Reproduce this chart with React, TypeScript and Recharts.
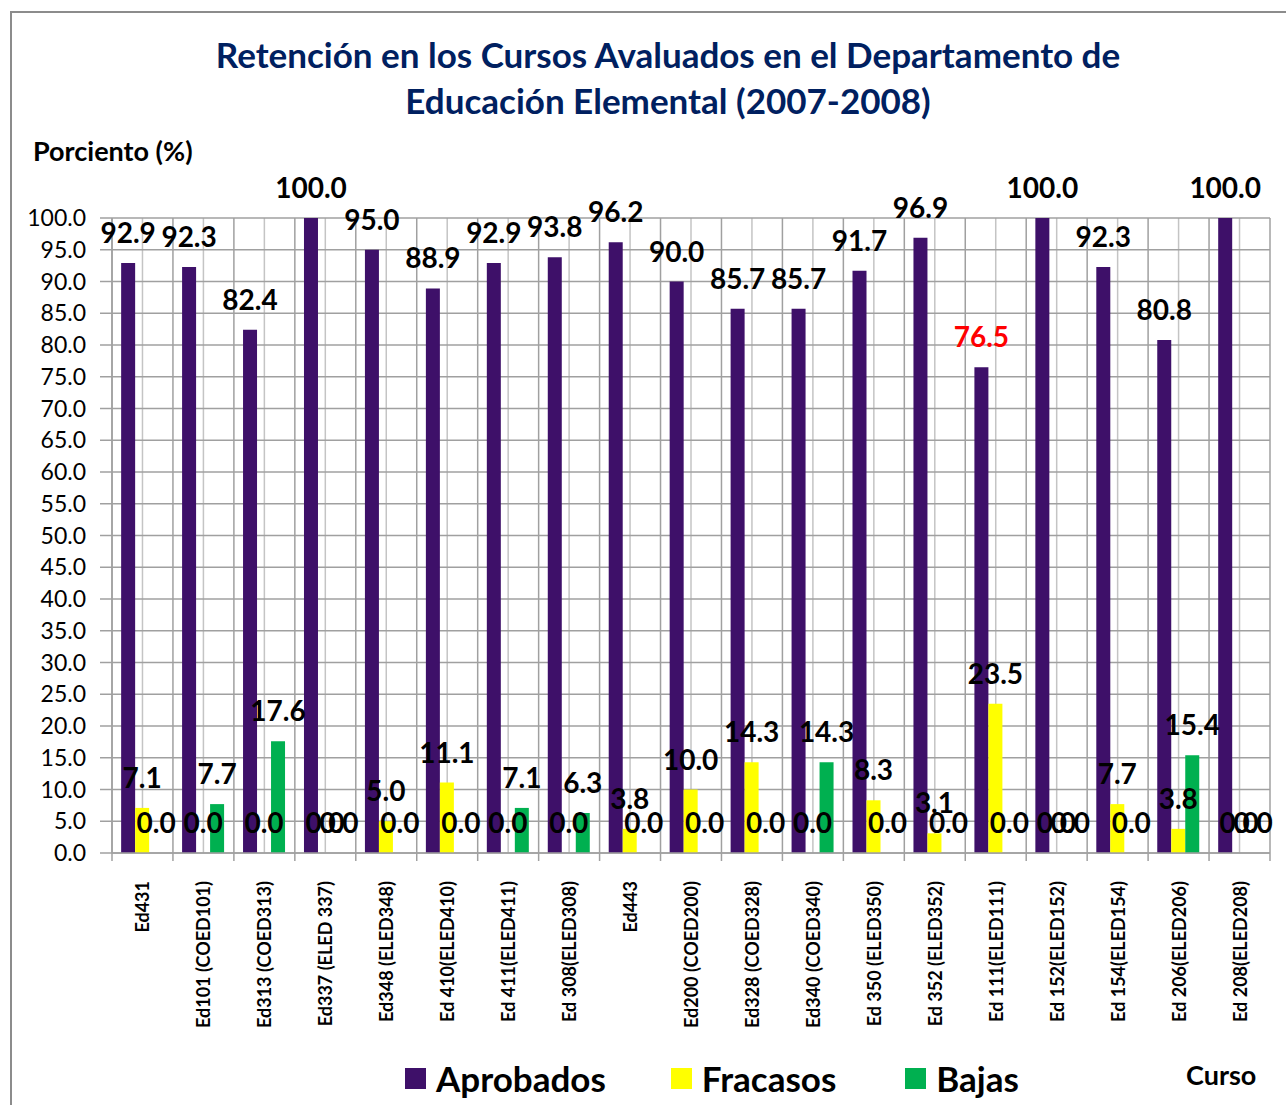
import React from "react";
import { BarChart, Bar, XAxis, YAxis, CartesianGrid, LabelList } from "recharts";

const categories = [
  "Ed431",
  "Ed101 (COED101)",
  "Ed313 (COED313)",
  "Ed337 (ELED 337)",
  "Ed348 (ELED348)",
  "Ed 410(ELED410)",
  "Ed 411(ELED411)",
  "Ed 308(ELED308)",
  "Ed443",
  "Ed200 (COED200)",
  "Ed328 (COED328)",
  "Ed340 (COED340)",
  "Ed 350 (ELED350)",
  "Ed 352 (ELED352)",
  "Ed 111(ELED111)",
  "Ed 152(ELED152)",
  "Ed 154(ELED154)",
  "Ed 206(ELED206)",
  "Ed 208(ELED208)",
];
const aprobados = [92.9, 92.3, 82.4, 100.0, 95.0, 88.9, 92.9, 93.8, 96.2, 90.0, 85.7, 85.7, 91.7, 96.9, 76.5, 100.0, 92.3, 80.8, 100.0];
const fracasos = [7.1, 0.0, 0.0, 0.0, 5.0, 11.1, 0.0, 0.0, 3.8, 10.0, 14.3, 0.0, 8.3, 3.1, 23.5, 0.0, 7.7, 3.8, 0.0];
const bajas = [0.0, 7.7, 17.6, 0.0, 0.0, 0.0, 7.1, 6.3, 0.0, 0.0, 0.0, 14.3, 0.0, 0.0, 0.0, 0.0, 0.0, 15.4, 0.0];
const yTicks = [0, 5, 10, 15, 20, 25, 30, 35, 40, 45, 50, 55, 60, 65, 70, 75, 80, 85, 90, 95, 100];
const highlightCategory = "Ed 111(ELED111)";

const titleLines = ["Retención en los Cursos Avaluados en el Departamento de", "Educación Elemental (2007-2008)"];
const yAxisTitle = "Porciento (%)";
const xAxisTitle = "Curso";

const series = [
  { key: "aprobados", name: "Aprobados", color: "#3E1069", gapAfter: 65 },
  { key: "fracasos", name: "Fracasos", color: "#FFFF00", gapAfter: 69 },
  { key: "bajas", name: "Bajas", color: "#00B050", gapAfter: 0 },
];

const data = categories.map((c, i) => ({
  curso: c,
  aprobados: aprobados[i],
  fracasos: fracasos[i],
  bajas: bajas[i],
}));

const FONT = "Lato, 'Open Sans', sans-serif";
const GRID_MAJOR = "#A0A0A0";
const GRID_MINOR = "#C4C4C4";

const XTick = (props: any) => {
  const { x, y, payload, index } = props;
  const half = payload && payload.offset ? payload.offset : 0;
  const ty = y + 28;
  return (
    <g>
      <line x1={x - half} y1={y} x2={x - half} y2={y + 8} stroke={GRID_MAJOR} strokeWidth={1.5} />
      {index === categories.length - 1 && (
        <line x1={x + half} y1={y} x2={x + half} y2={y + 8} stroke={GRID_MAJOR} strokeWidth={1.5} />
      )}
      <text
        x={x}
        y={ty}
        transform={`rotate(-90, ${x}, ${ty})`}
        textAnchor="end"
        dominantBaseline="central"
        fontSize={18}
        fontWeight={700}
        fontFamily={FONT}
        fill="#000"
      >
        {payload.value}
      </text>
    </g>
  );
};

const makeLabel = (seriesKey: string) => (props: any) => {
  const { x, y, width, value, index } = props;
  const isRed = seriesKey === "aprobados" && categories[index] === highlightCategory;
  return (
    <text
      x={x + width / 2}
      y={y - 20}
      textAnchor="middle"
      fontSize={28}
      fontWeight={700}
      fontFamily={FONT}
      fill={isRed ? "#FF0000" : "#000"}
    >
      {Number(value).toFixed(1)}
    </text>
  );
};

const verticalGen = (n: number, start: number) => ({ offset }: any) => {
  const arr: number[] = [];
  for (let i = start; i <= n * 2; i += 2) arr.push(offset.left + (offset.width * i) / (n * 2));
  return arr;
};

export default function App() {
  return (
    <div style={{ position: "absolute", left: 0, top: 0, width: 1286, height: 1105, overflow: "hidden", background: "#fff" }}>
      <div
        style={{
          position: "absolute",
          left: 10,
          top: 11,
          width: 1320,
          height: 1200,
          borderLeft: "2px solid #8C8C8C",
          borderTop: "2px solid #8C8C8C",
        }}
      />
      <div
        style={{
          position: "absolute",
          left: 0,
          width: 1336,
          top: 31,
          textAlign: "center",
          fontFamily: FONT,
          fontWeight: 700,
          fontSize: 35,
          lineHeight: "46px",
          color: "#002060",
        }}
      >
        {titleLines.map((t) => (
          <div key={t}>{t}</div>
        ))}
      </div>
      <div
        style={{
          position: "absolute",
          left: 33,
          top: 135,
          fontFamily: FONT,
          fontWeight: 700,
          fontSize: 27,
          lineHeight: "32px",
          color: "#000",
        }}
      >
        {yAxisTitle}
      </div>
      <div
        style={{
          position: "absolute",
          left: 1186,
          top: 1058,
          fontFamily: FONT,
          fontWeight: 700,
          fontSize: 27,
          lineHeight: "34px",
          color: "#000",
        }}
      >
        {xAxisTitle}
      </div>
      <div style={{ position: "absolute", left: 0, top: 0 }}>
        <BarChart
          width={1286}
          height={1105}
          data={data}
          margin={{ top: 218, right: 16, bottom: 0, left: 32 }}
          barCategoryGap="15%"
          barGap={0}
        >
          <CartesianGrid
            horizontal={false}
            vertical={true}
            stroke={GRID_MINOR}
            strokeWidth={1.5}
            verticalCoordinatesGenerator={verticalGen(categories.length, 1)}
          />
          <CartesianGrid
            horizontal={true}
            vertical={true}
            stroke={GRID_MAJOR}
            strokeWidth={1.5}
            verticalCoordinatesGenerator={verticalGen(categories.length, 0)}
          />
          <XAxis
            dataKey="curso"
            interval={0}
            height={252}
            tickSize={0}
            tickMargin={0}
            tickLine={false}
            axisLine={{ stroke: GRID_MAJOR, strokeWidth: 1.5 }}
            tick={<XTick />}
          />
          <YAxis
            domain={[0, 100]}
            ticks={yTicks}
            width={80}
            interval={0}
            tickSize={12}
            tickMargin={14}
            tickLine={{ stroke: GRID_MAJOR, strokeWidth: 1.5 }}
            axisLine={{ stroke: GRID_MAJOR, strokeWidth: 1.5 }}
            tickFormatter={(v: number) => v.toFixed(1)}
            tick={{ fontSize: 23, fontFamily: FONT, fill: "#000" }}
          />
          {series.map((s) => (
            <Bar
              key={s.key}
              dataKey={s.key}
              name={s.name}
              fill={s.color}
              minPointSize={0.01}
              isAnimationActive={false}
            >
              <LabelList dataKey={s.key} content={makeLabel(s.key)} />
            </Bar>
          ))}
        </BarChart>
      </div>
      <div
        style={{
          position: "absolute",
          left: 405,
          top: 1059,
          display: "flex",
          alignItems: "center",
          fontFamily: FONT,
        }}
      >
        {series.map((s) => (
          <div key={s.key} style={{ display: "flex", alignItems: "center", marginRight: s.gapAfter }}>
            <div style={{ width: 21, height: 21, background: s.color, marginRight: 10 }} />
            <span style={{ fontSize: 35, fontWeight: 700, color: "#000", lineHeight: "38px" }}>{s.name}</span>
          </div>
        ))}
      </div>
    </div>
  );
}
